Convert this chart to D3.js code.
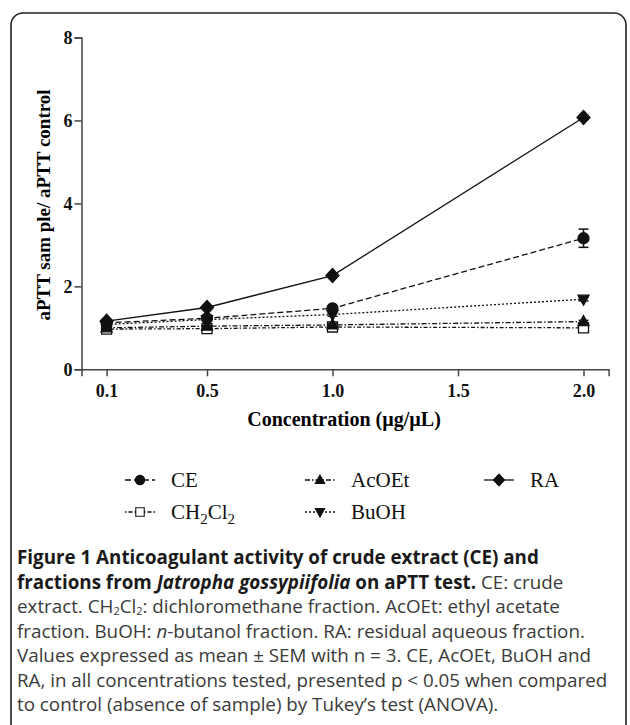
<!DOCTYPE html>
<html>
<head>
<meta charset="utf-8">
<script src="https://cdn.jsdelivr.net/npm/d3@7"></script>
<style>
  body { margin: 0; background: #fff; }
  .tick text { font-family: "Liberation Serif", "Times New Roman", serif; font-weight: bold; font-size: 18px; fill: #111; }
  .axis path, .axis line { stroke: #444; stroke-width: 1.5px; }
  .cap { font-family: "Open Sans", sans-serif; font-size: 18.8px; fill: #3a3a3a; }
  .cap .b { font-weight: bold; fill: #1a1a1a; }
</style>
</head>
<body>
<div id="chart"></div>
<script>
var W = 630, H = 725;

// data
var conc = [0.1, 0.5, 1.0, 2.0];
var xTicks = [0.1, 0.5, 1.0, 1.5, 2.0];
var yTicks = [0, 2, 4, 6, 8];
var ceVals = [1.12, 1.23, 1.47, 3.16];
var ceSem = [0.03, 0.04, 0.05, 0.22];
var ch2cl2Vals = [0.97, 0.98, 1.02, 1.0];
var ch2cl2Sem = [0.02, 0.02, 0.02, 0.03];
var acoetVals = [1.0, 1.04, 1.07, 1.15];
var acoetSem = [0.02, 0.02, 0.03, 0.03];
var buohVals = [1.08, 1.2, 1.32, 1.69];
var buohSem = [0.02, 0.03, 0.04, 0.04];
var raVals = [1.16, 1.49, 2.26, 6.07];
var raSem = [0.02, 0.03, 0.04, 0.05];

var series = [
  {name: "CH2Cl2", vals: ch2cl2Vals, sem: ch2cl2Sem, sym: "square", dash: "1.5,2,4,2"},
  {name: "AcOEt", vals: acoetVals, sem: acoetSem, sym: "triangle", dash: "5,2,1.5,2"},
  {name: "BuOH", vals: buohVals, sem: buohSem, sym: "triangleDown", dash: "2,2"},
  {name: "CE", vals: ceVals, sem: ceSem, sym: "circle", dash: "6,3"},
  {name: "RA", vals: raVals, sem: raSem, sym: "diamond", dash: null}
];

var svg = d3.select("#chart").append("svg")
  .attr("width", W).attr("height", H);

svg.append("rect").attr("width", W).attr("height", H).attr("fill", "#fff");

// figure frame with rounded top corners
svg.append("rect")
  .attr("x", 11).attr("y", 13)
  .attr("width", 615).attr("height", 760)
  .attr("rx", 12)
  .attr("fill", "none")
  .attr("stroke", "#222")
  .attr("stroke-width", 1.6);

var x = d3.scaleLinear().domain([0, 2.1]).range([81.5, 608.6]);
var y = d3.scaleLinear().domain([0, 8]).range([369.3, 37.5]);

svg.append("g")
  .attr("class", "axis")
  .attr("transform", "translate(0," + y(0) + ")")
  .call(d3.axisBottom(x).tickValues(xTicks).tickFormat(d3.format(".1f")).tickSizeOuter(0).tickSize(7).tickPadding(8));

svg.append("g")
  .attr("class", "axis")
  .attr("transform", "translate(" + x(0) + ",0)")
  .call(d3.axisLeft(y).tickValues(yTicks).tickFormat(d3.format("d")).tickSizeOuter(0).tickSize(7).tickPadding(2));

// axis titles
svg.append("text")
  .attr("x", 344).attr("y", 426)
  .attr("text-anchor", "middle")
  .style("font-family", "'Liberation Serif', serif")
  .style("font-weight", "bold")
  .style("font-size", "20px")
  .text("Concentration (µg/µL)");

svg.append("text")
  .attr("transform", "translate(50," + 205 + ") rotate(-90)")
  .attr("text-anchor", "middle")
  .style("font-family", "'Liberation Serif', serif")
  .style("font-weight", "bold")
  .style("font-size", "19px")
  .text("aPTT sam ple/ aPTT control");

function symPath(sym) {
  if (sym === "square") return "M-5,-5H5V5H-5Z";
  if (sym === "triangle") return "M0,-6L5.5,4H-5.5Z";
  if (sym === "triangleDown") return "M0,6L5.5,-4H-5.5Z";
  if (sym === "diamond") return "M0,-7L6.5,0L0,7L-6.5,0Z";
  return d3.symbol(d3.symbolCircle, 95)();
}

var line = d3.line()
  .x(function(d, i) { return x(conc[i]); })
  .y(function(d) { return y(d); });

series.forEach(function(s) {
  svg.append("path")
    .attr("d", line(s.vals))
    .attr("fill", "none")
    .attr("stroke", "#111")
    .attr("stroke-width", 1.3)
    .attr("stroke-dasharray", s.dash);

  // error bars
  s.vals.forEach(function(v, i) {
    var cx = x(conc[i]);
    var g = svg.append("g").attr("stroke", "#111").attr("stroke-width", 1.5);
    g.append("line").attr("x1", cx).attr("x2", cx).attr("y1", y(v - s.sem[i])).attr("y2", y(v + s.sem[i]));
    g.append("line").attr("x1", cx - 5).attr("x2", cx + 5).attr("y1", y(v - s.sem[i])).attr("y2", y(v - s.sem[i]));
    g.append("line").attr("x1", cx - 5).attr("x2", cx + 5).attr("y1", y(v + s.sem[i])).attr("y2", y(v + s.sem[i]));
  });

  svg.selectAll(null)
    .data(s.vals)
    .enter().append("path")
    .attr("d", symPath(s.sym))
    .attr("transform", function(d, i) { return "translate(" + x(conc[i]) + "," + y(d) + ")"; })
    .attr("fill", s.sym === "square" ? "#fff" : "#111")
    .attr("stroke", "#111")
    .attr("stroke-width", 1.3);
});

// legend
var legend = [
  {s: series[3], x: 125, y: 480, label: ["CE"]},
  {s: series[1], x: 305, y: 480, label: ["AcOEt"]},
  {s: series[4], x: 484, y: 480, label: ["RA"]},
  {s: series[0], x: 125, y: 512, label: ["CH", "2", "Cl", "2"]},
  {s: series[2], x: 305, y: 512, label: ["BuOH"]}
];

legend.forEach(function(l) {
  svg.append("line")
    .attr("x1", l.x).attr("x2", l.x + 30)
    .attr("y1", l.y).attr("y2", l.y)
    .attr("stroke", "#111").attr("stroke-width", 1.3)
    .attr("stroke-dasharray", l.s.dash);
  svg.append("path")
    .attr("d", symPath(l.s.sym))
    .attr("transform", "translate(" + (l.x + 15) + "," + l.y + ") scale(0.85)")
    .attr("fill", l.s.sym === "square" ? "#fff" : "#111")
    .attr("stroke", "#111").attr("stroke-width", 1.3);
  var t = svg.append("text")
    .attr("x", l.x + 46).attr("y", l.y + 7)
    .style("font-family", "'Liberation Serif', serif")
    .style("font-size", "21px")
    .attr("fill", "#111");
  l.label.forEach(function(p, i) {
    var sp = t.append("tspan").text(p);
    if (i % 2 === 1) sp.attr("dy", 5).style("font-size", "15px");
    else if (i > 0) sp.attr("dy", -5);
  });
});

// caption
var capLines = [
  [["b", "Figure 1 Anticoagulant activity of crude extract (CE) and"]],
  [["b", "fractions from "], ["bi", "Jatropha gossypiifolia"], ["b", " on aPTT test."], ["r", " CE: crude"]],
  [["r", "extract. CH"], ["sub", "2"], ["r", "Cl"], ["sub", "2"], ["r", ": dichloromethane fraction. AcOEt: ethyl acetate"]],
  [["r", "fraction. BuOH: "], ["i", "n"], ["r", "-butanol fraction. RA: residual aqueous fraction."]],
  [["r", "Values expressed as mean ± SEM with n = 3. CE, AcOEt, BuOH and"]],
  [["r", "RA, in all concentrations tested, presented p < 0.05 when compared"]],
  [["r", "to control (absence of sample) by Tukey\u2019s test (ANOVA)."]]
];

capLines.forEach(function(parts, li) {
  var t = svg.append("text").attr("class", "cap")
    .attr("x", 17).attr("y", 564 + li * 24.5);
  var shifted = false;
  parts.forEach(function(p) {
    var sp = t.append("tspan").text(p[1]);
    if (p[0] === "b" || p[0] === "bi") sp.attr("class", "b");
    if (p[0] === "bi" || p[0] === "i") sp.style("font-style", "italic");
    if (p[0] === "sub") { sp.attr("dy", 2).style("font-size", "11px"); shifted = true; }
    else if (shifted) { sp.attr("dy", -2); shifted = false; }
  });
});
</script>
</body>
</html>
